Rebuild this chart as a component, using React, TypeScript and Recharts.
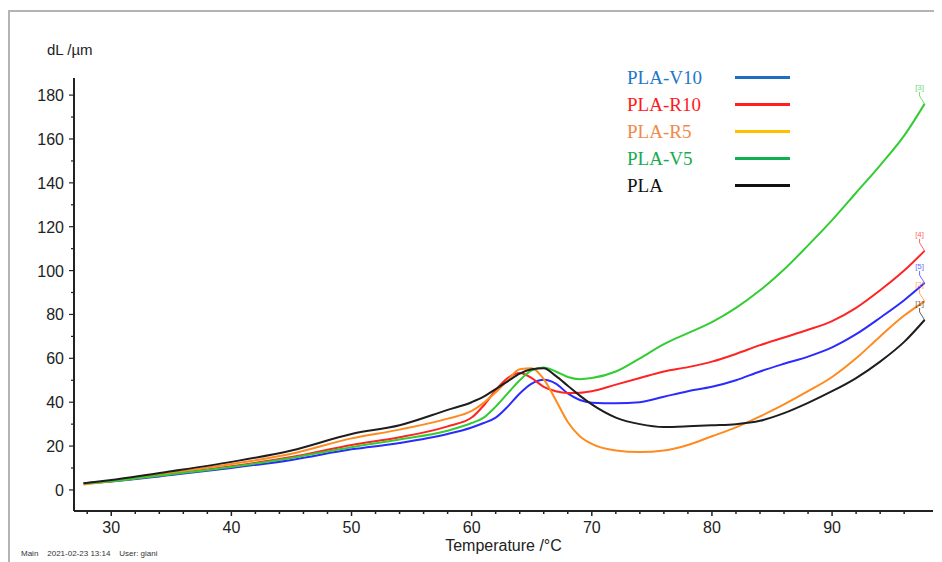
import { Line, LineChart, XAxis, YAxis } from "recharts";

const temps = [27.7, 30, 35, 40, 45, 50, 54, 58, 60, 61, 62, 63, 64, 65, 66, 67, 68, 69, 70, 72, 74, 76, 78, 80, 82, 84, 86, 88, 90, 92, 94, 96, 97.7];

const plaV10 = [3, 3.8, 6.8, 10, 13.7, 18.5, 21.4, 25.5, 28.5, 30.5, 33, 38, 44, 48.5, 50.2, 48.5, 44, 41, 39.8, 39.5, 40, 42.5, 45, 47, 50, 54, 57.5, 60.8, 65, 71, 78.5, 86.5, 94.3];
const plaR10 = [3, 4, 7.3, 10.8, 15, 20.5, 24, 29, 33, 38.5, 45.5, 51, 53.3, 51, 47, 45, 44.2, 44.3, 45, 48, 51, 54, 56, 58.5, 62, 66, 69.5, 73, 77, 83, 91, 100, 109];
const plaR5 = [2.5, 4, 7.8, 11.8, 16.5, 23.5, 27.5, 32.5, 36, 39.7, 44.5, 50, 55, 55.5, 50.5, 41, 31, 24.5, 21, 18, 17.3, 18, 20.5, 24.5, 28.5, 33.5, 39, 45, 51.5, 60, 70, 79.5, 86];
const plaV5 = [3, 4, 7.2, 10.5, 14.6, 19.5, 23, 27, 30.5, 33, 38, 44, 50, 54.5, 55.8, 54, 51.5, 50.5, 51, 54, 60, 66.5, 71.5, 76.5, 83, 91, 100.5, 111.5, 123, 135.5, 148, 161.5, 176];
const pla = [3, 4.5, 8.5, 12.8, 18, 25.5, 29.5, 36.5, 40, 42.5, 46, 49.5, 53, 55, 55.5, 52, 47.5, 43, 39, 33, 30, 28.7, 29, 29.5, 30, 31.5, 35, 39.7, 45, 51, 58.5, 67.5, 77.5];

const xTicks = [28, 30, 32, 34, 36, 38, 40, 42, 44, 46, 48, 50, 52, 54, 56, 58, 60, 62, 64, 66, 68, 70, 72, 74, 76, 78, 80, 82, 84, 86, 88, 90, 92, 94, 96];
const yTicks = [0, 10, 20, 30, 40, 50, 60, 70, 80, 90, 100, 110, 120, 130, 140, 150, 160, 170, 180];

const series = [
  { key: "v10", name: "PLA-V10", values: plaV10, stroke: "#2b2bff", text: "#1f77c8", legendLine: "#1f6fc0", tag: "[5]" },
  { key: "r10", name: "PLA-R10", values: plaR10, stroke: "#ff2424", text: "#ff1a1a", legendLine: "#ff2020", tag: "[4]" },
  { key: "r5", name: "PLA-R5", values: plaR5, stroke: "#ff8a1f", text: "#f08a4b", legendLine: "#ffc000", tag: "[2]" },
  { key: "v5", name: "PLA-V5", values: plaV5, stroke: "#33cc33", text: "#18aa50", legendLine: "#10b050", tag: "[3]" },
  { key: "pla", name: "PLA", values: pla, stroke: "#1e1e1e", text: "#111111", legendLine: "#111111", tag: "[1]" },
];

const data = temps.map((t, i) => {
  const row: Record<string, number> = { t };
  series.forEach((s) => (row[s.key] = s.values[i]));
  return row;
});

const axisFont = "Arial, 'Liberation Sans', sans-serif";

function YTick({ x, y, payload }: any) {
  const major = payload.value % 20 === 0;
  return (
    <g>
      <line x1={x - (major ? 5 : 3)} x2={x} y1={y} y2={y} stroke="#222" strokeWidth={1.2} />
      {major && (
        <text x={x - 10} y={y} dy={6} textAnchor="end" fontSize={16} fill="#222" fontFamily={axisFont}>
          {payload.value}
        </text>
      )}
    </g>
  );
}

function XTick({ x, y, payload }: any) {
  const major = payload.value % 10 === 0;
  return (
    <g>
      <line x1={x} x2={x} y1={y} y2={y + (major ? 5 : 3)} stroke="#222" strokeWidth={1.5} />
      {major && (
        <text x={x} y={y + 22} textAnchor="middle" fontSize={16} fill="#222" fontFamily={axisFont}>
          {payload.value}
        </text>
      )}
    </g>
  );
}

// small "[n]" curve tag with a leader line at the end of each curve
function endTag(tag: string, color: string) {
  return (props: any) => {
    if (props.index !== temps.length - 1) return null;
    const { x, y } = props;
    return (
      <g>
        <polyline
          points={`${x},${y} ${x - 5},${y - 8} ${x - 5},${y - 12}`}
          fill="none"
          stroke={color}
          strokeWidth={1}
          opacity={0.7}
        />
        <text x={x - 5} y={y - 14} textAnchor="middle" fontSize={8} fill={color} opacity={0.7} fontFamily={axisFont}>
          {tag}
        </text>
      </g>
    );
  };
}

function LegendBox() {
  return (
    <div
      style={{
        position: "absolute",
        left: 619,
        top: 56,
        fontFamily: "'Liberation Serif', 'Times New Roman', serif",
        fontSize: 19,
      }}
    >
      {series.map((s) => (
        <div key={s.key} style={{ display: "flex", alignItems: "center", height: 27 }}>
          <span style={{ color: s.text, width: 108 }}>{s.name}</span>
          <span style={{ display: "inline-block", width: 55, height: 2.5, background: s.legendLine }} />
        </div>
      ))}
    </div>
  );
}

export default function App() {
  return (
    <div style={{ position: "relative", width: 934, height: 554, background: "#fff" }}>
      <div
        style={{
          position: "absolute",
          left: 0,
          top: 2,
          width: 940,
          height: 560,
          border: "2px solid #b4b4b4",
          boxSizing: "border-box",
        }}
      />
      <div style={{ position: "absolute", left: 39, top: 33, fontSize: 15, color: "#222", fontFamily: axisFont }}>
        dL /µm
      </div>
      <LineChart
        width={934}
        height={554}
        data={data}
        margin={{ top: 70, right: 9, bottom: 11, left: 26 }}
      >
        <XAxis
          dataKey="t"
          type="number"
          domain={[26.9, 98.4]}
          ticks={xTicks}
          interval={0}
          tick={<XTick />}
          tickLine={false}
          tickSize={0}
          tickMargin={0}
          height={40}
          axisLine={{ stroke: "#222", strokeWidth: 2 }}
          allowDataOverflow
          label={{
            value: "Temperature /°C",
            position: "insideBottom",
            offset: 0,
            fontSize: 16,
            fill: "#222",
            fontFamily: axisFont,
          }}
        />
        <YAxis
          type="number"
          domain={[-9.6, 187.8]}
          ticks={yTicks}
          interval={0}
          tick={<YTick />}
          tickLine={false}
          tickSize={0}
          tickMargin={0}
          width={40}
          axisLine={{ stroke: "#222", strokeWidth: 2 }}
          allowDataOverflow
        />
        {series.map((s) => (
          <Line
            key={s.key}
            dataKey={s.key}
            name={s.name}
            type="monotone"
            stroke={s.stroke}
            strokeWidth={2}
            dot={false}
            isAnimationActive={false}
            label={endTag(s.tag, s.stroke)}
          />
        ))}
      </LineChart>
      <LegendBox />
      <div style={{ position: "absolute", left: 13, top: 541, fontSize: 8, color: "#333", fontFamily: axisFont, whiteSpace: "pre" }}>
        {"Main    2021-02-23 13:14    User: giani"}
      </div>
    </div>
  );
}
